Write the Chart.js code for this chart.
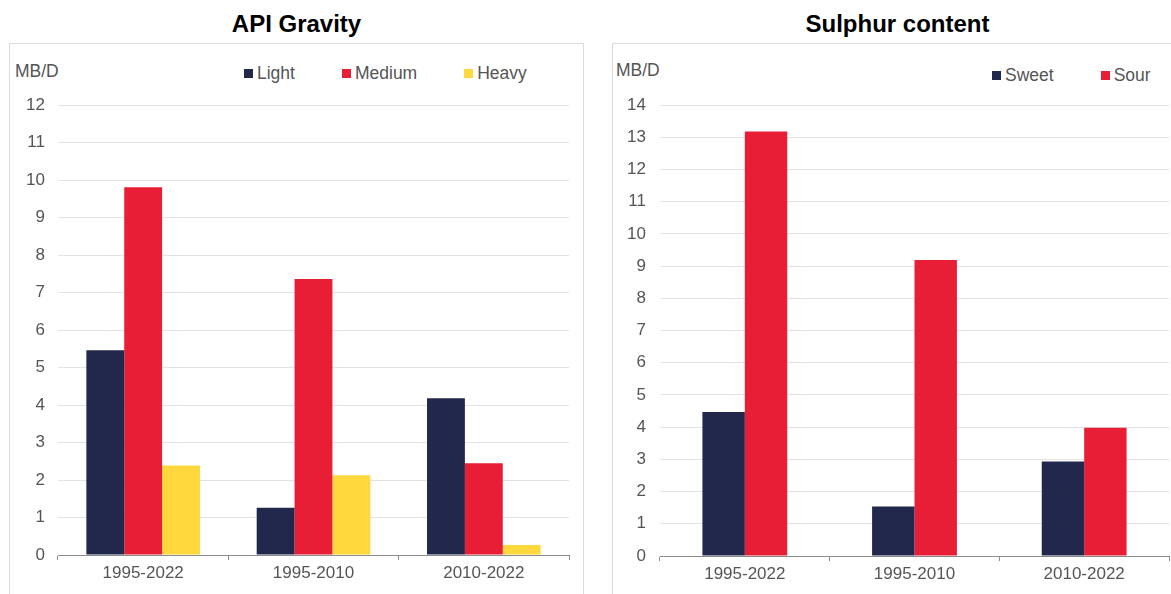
<!DOCTYPE html>
<html>
<head>
<meta charset="utf-8">
<script src="https://cdn.jsdelivr.net/npm/chart.js@4.4.1/dist/chart.umd.min.js"></script>
<style>
  body { margin: 0; width: 1171px; height: 594px; overflow: hidden; background: #fff;
         font-family: "Liberation Sans", Arial, sans-serif; }
  .panel { position: absolute; top: 0; height: 594px; }
  .titulo { position: absolute; top: 10px; left: 0; right: 0; text-align: center;
            font-weight: bold; font-size: 24px; color: #000; line-height: 28px; }
  .marco { position: absolute; top: 43px; left: 0; height: 600px; box-sizing: border-box;
           border: 1px solid #dcdcdc; }
  .unidad { position: absolute; font-size: 17.5px; line-height: 20px; color: #555; }
  .leyenda { position: absolute; display: flex; font-size: 17.5px; line-height: 20px; color: #555; }
  .leyenda .item { display: flex; align-items: center; margin-right: 47px; }
  .leyenda .caja { display: inline-block; width: 9px; height: 9px; margin-right: 4px; }
  canvas { position: absolute; }
</style>
</head>
<body>

<div class="panel" id="panelApi" style="left:9px; width:575px;">
  <div class="titulo">API Gravity</div>
  <div class="marco" style="width:575px;"></div>
  <div class="unidad" style="left:6px; top:61px;">MB/D</div>
  <div class="leyenda" id="leyendaApi" style="left:235px; top:63px;"></div>
  <canvas id="graficoApi" width="573" height="550" style="left:1px; top:44px;"></canvas>
</div>

<div class="panel" id="panelAzufre" style="left:612px; width:571px;">
  <div class="titulo">Sulphur content</div>
  <div class="marco" style="width:572px;"></div>
  <div class="unidad" style="left:4px; top:60px;">MB/D</div>
  <div class="leyenda" id="leyendaAzufre" style="left:380px; top:65px;"></div>
  <canvas id="graficoAzufre" width="558" height="549" style="left:1px; top:45px;"></canvas>
</div>

<script>
// Periodos comunes a los dos graficos
const periodos = ["1995-2022", "1995-2010", "2010-2022"];

// Densidad API (MB/D)
const ligero = [5.46, 1.26, 4.18];
const medio = [9.81, 7.36, 2.45];
const pesado = [2.39, 2.13, 0.27];

// Contenido de azufre (MB/D)
const dulce = [4.47, 1.54, 2.93];
const agrio = [13.18, 9.19, 3.98];

const AZUL = "#22284c";
const ROJO = "#e81e36";
const AMARILLO = "#fed83c";
const GRIS_TEXTO = "#555555";

Chart.defaults.font.family = '"Liberation Sans", Arial, sans-serif';
Chart.defaults.font.size = 17;
Chart.defaults.color = GRIS_TEXTO;

// Leyenda en HTML a partir de los datasets
function leyendaHtml(idContenedor) {
  return {
    id: "leyendaHtml",
    afterUpdate(chart) {
      const cont = document.getElementById(idContenedor);
      cont.innerHTML = "";
      chart.data.datasets.forEach((ds) => {
        const item = document.createElement("div");
        item.className = "item";
        const caja = document.createElement("span");
        caja.className = "caja";
        caja.style.background = ds.backgroundColor;
        item.appendChild(caja);
        item.appendChild(document.createTextNode(ds.label));
        cont.appendChild(item);
      });
    },
  };
}

function opcionesEjes(maxY, anchoY, altoX, padY) {
  return {
    x: {
      grid: { offset: true, drawOnChartArea: false, drawTicks: true, tickLength: 5, color: "#8c8c8c" },
      border: { color: "#8c8c8c" },
      ticks: { padding: 3, color: GRIS_TEXTO },
      afterFit: (s) => { s.height = altoX; },
    },
    y: {
      min: 0,
      max: maxY,
      ticks: { stepSize: 1, padding: padY, color: GRIS_TEXTO },
      grid: { color: "#e3e3e3", drawTicks: false },
      border: { display: false },
      afterFit: (s) => { s.width = anchoY; },
    },
  };
}

new Chart(document.getElementById("graficoApi").getContext("2d"), {
  type: "bar",
  data: {
    labels: periodos,
    datasets: [
      { label: "Light", data: ligero, backgroundColor: AZUL },
      { label: "Medium", data: medio, backgroundColor: ROJO },
      { label: "Heavy", data: pesado, backgroundColor: AMARILLO },
    ],
  },
  options: {
    responsive: false,
    animation: false,
    categoryPercentage: 0.667,
    barPercentage: 1,
    layout: { padding: { left: 0, right: 14, top: 61, bottom: 0 } },
    plugins: { legend: { display: false }, tooltip: { enabled: false } },
    scales: opcionesEjes(12, 48, 39, 13),
  },
  plugins: [leyendaHtml("leyendaApi")],
});

new Chart(document.getElementById("graficoAzufre").getContext("2d"), {
  type: "bar",
  data: {
    labels: periodos,
    datasets: [
      { label: "Sweet", data: dulce, backgroundColor: AZUL },
      { label: "Sour", data: agrio, backgroundColor: ROJO },
    ],
  },
  options: {
    responsive: false,
    animation: false,
    categoryPercentage: 0.5,
    barPercentage: 1,
    layout: { padding: { left: 0, right: 2, top: 60, bottom: 0 } },
    plugins: { legend: { display: false }, tooltip: { enabled: false } },
    scales: opcionesEjes(14, 47, 38, 14),
  },
  plugins: [leyendaHtml("leyendaAzufre")],
});
</script>
</body>
</html>
